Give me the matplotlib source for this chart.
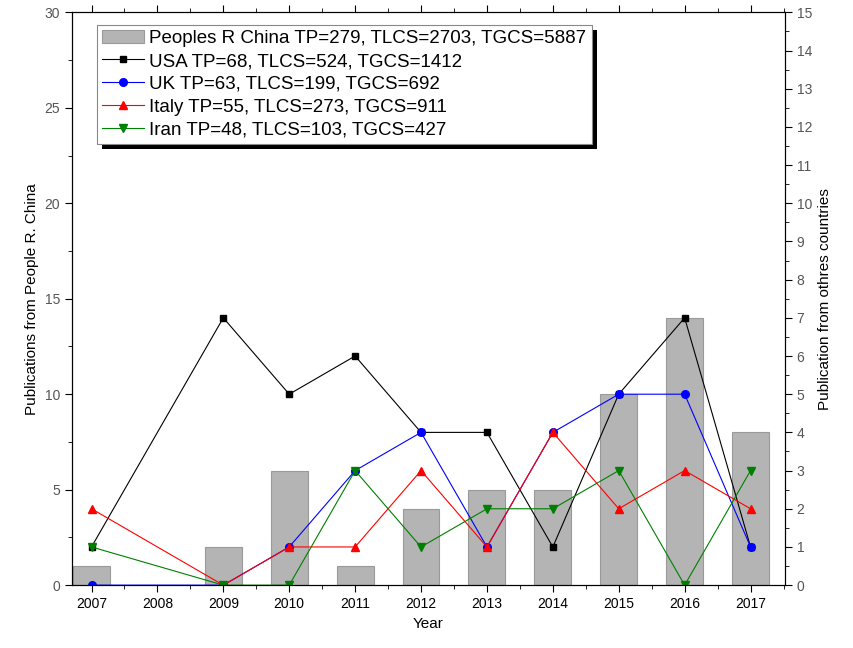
import numpy as np
import matplotlib.pyplot as plt
from matplotlib.ticker import MultipleLocator
from matplotlib.patches import Rectangle
from matplotlib.transforms import IdentityTransform

plt.rcParams['font.family'] = ['Liberation Sans', 'DejaVu Sans']

years = [2007, 2008, 2009, 2010, 2011, 2012, 2013, 2014, 2015, 2016, 2017]
china = [1, 0, 2, 6, 1, 4, 5, 5, 10, 14, 8]
nan = np.nan
usa = [1, nan, 7, 5, 6, 4, 4, 1, 5, 7, 1]
uk = [0, nan, 0, 1, 3, 4, 1, 4, 5, 5, 1]
italy = [2, nan, 0, 1, 1, 3, 1, 4, 2, 3, 2]
iran = [1, nan, 0, 0, 3, 1, 2, 2, 3, 0, 3]

labels = ["Peoples R China TP=279, TLCS=2703, TGCS=5887",
          "USA TP=68, TLCS=524, TGCS=1412",
          "UK TP=63, TLCS=199, TGCS=692",
          "Italy TP=55, TLCS=273, TGCS=911",
          "Iran TP=48, TLCS=103, TGCS=427"]

fig = plt.figure(figsize=(8.54, 6.48), dpi=100)
ax = fig.add_axes([0.084, 0.097, 0.835, 0.884])
ax2 = ax.twinx()

bars = ax.bar(years, china, width=0.56, color='#b4b4b4', edgecolor='#9a9a9a', linewidth=0.8)

def masked(v):
    v = np.array(v, dtype=float)
    x = np.array(years)
    ok = ~np.isnan(v)
    return x[ok], v[ok]

h = []
for vals, col, mk, ms in [(usa, 'black', 's', 5), (uk, '#0000ff', 'o', 5.5),
                          (italy, '#ff0000', '^', 6), (iran, '#008000', 'v', 6)]:
    x, y = masked(vals)
    ln, = ax2.plot(x, y, color=col, marker=mk, markersize=ms, linewidth=0.8)
    h.append(ln)

ax.set_xlim(2006.7, 2017.52)
ax.set_ylim(0, 30)
ax2.set_ylim(0, 15)
ax.set_xticks(years)
ax.xaxis.set_minor_locator(MultipleLocator(0.5))
ax.yaxis.set_major_locator(MultipleLocator(5))
ax.yaxis.set_minor_locator(MultipleLocator(2.5))
ax2.yaxis.set_major_locator(MultipleLocator(1))
ax2.yaxis.set_minor_locator(MultipleLocator(0.5))

ax.tick_params(axis='both', which='both', direction='out', labelsize=10)
ax.tick_params(axis='x', which='both', top=True)
ax.tick_params(which='major', length=5)
ax.tick_params(which='minor', length=3)
ax2.tick_params(which='major', length=5, labelsize=10, labelcolor='#555555')
ax2.tick_params(which='minor', length=3)
ax.tick_params(axis='y', labelcolor='#555555')

ax.set_xlabel("Year", fontsize=11)
ax.set_ylabel("Publications from People R. China", fontsize=11)
ax2.set_ylabel("Publication from othres countries", fontsize=11)

leg = ax2.legend([bars] + h, labels, loc='upper left', bbox_to_anchor=(0.022, 0.995),
                 fontsize=13.5, frameon=True, fancybox=False, edgecolor='#888888',
                 framealpha=1, handlelength=2.2,
                 borderpad=0.3, labelspacing=0.3, handletextpad=0.3)
leg.get_frame().set_linewidth(0.8)

# thick black drop shadow behind the legend
fig.canvas.draw()
bb = leg.get_window_extent()
shadow = Rectangle((bb.x0 + 5, bb.y0 - 5), bb.width, bb.height, transform=IdentityTransform(),
                   facecolor='black', edgecolor='none', zorder=4.9)
ax2.add_artist(shadow)

fig.savefig("out.png", dpi=100)
